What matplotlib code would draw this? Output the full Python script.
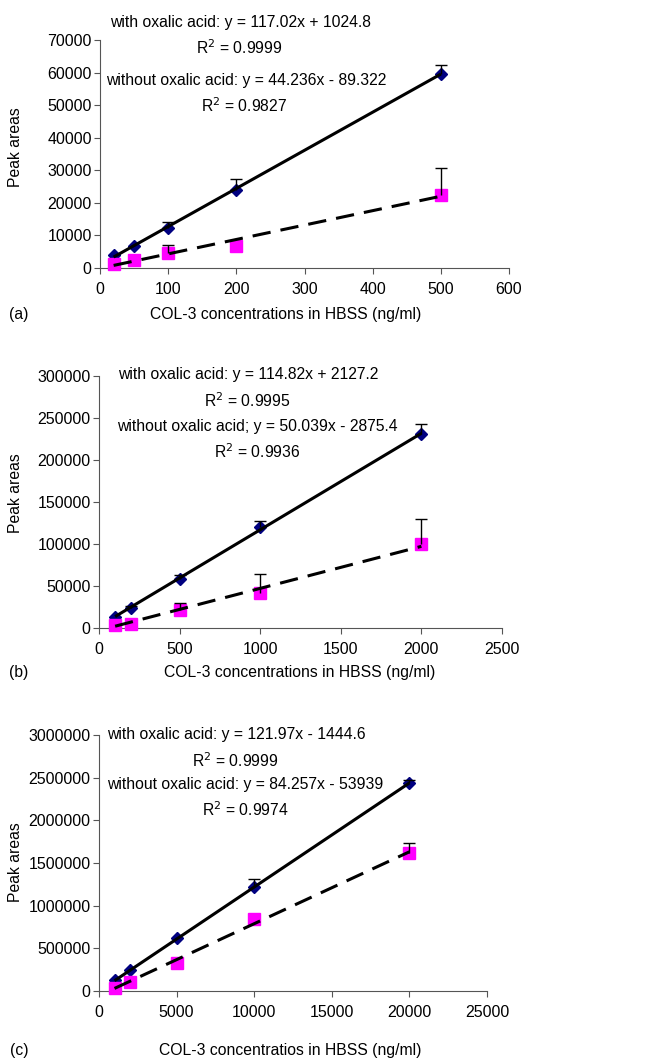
import matplotlib.pyplot as plt
import numpy as np

plt.rcParams["font.family"] = ["Liberation Sans Narrow", "Liberation Sans", "DejaVu Sans"]

# -- Panel (a) --------------------------------------------------------------
a_x = [20, 50, 100, 200, 500]
a_with = [3900, 6660, 12300, 23900, 59500]
a_with_err = [0, 0, 1850, 3300, 2700]
a_without = [1330, 2560, 4710, 6760, 22450]
a_without_err = [0, 0, 2460, 0, 8300]
a_fit_with = (117.02, 1024.8)
a_fit_without = (44.236, -89.322)
a_texts = ["with oxalic acid: y = 117.02x + 1024.8", "R$^2$ = 0.9999",
           "without oxalic acid: y = 44.236x - 89.322", "R$^2$ = 0.9827"]
a_yticks = [0, 10000, 20000, 30000, 40000, 50000, 60000, 70000]
a_xticks = [0, 100, 200, 300, 400, 500, 600]

# -- Panel (b) --------------------------------------------------------------
b_x = [100, 200, 500, 1000, 2000]
b_with = [13100, 24300, 58900, 120200, 230800]
b_with_err = [0, 2000, 4000, 7600, 12300]
b_without = [3200, 5200, 21900, 42200, 99500]
b_without_err = [0, 0, 8300, 22300, 30200]
b_fit_with = (114.82, 2127.2)
b_fit_without = (50.039, -2875.4)
b_texts = ["with oxalic acid: y = 114.82x + 2127.2", "R$^2$ = 0.9995",
           "without oxalic acid; y = 50.039x - 2875.4", "R$^2$ = 0.9936"]
b_yticks = [0, 50000, 100000, 150000, 200000, 250000, 300000]
b_xticks = [0, 500, 1000, 1500, 2000, 2500]

# -- Panel (c) --------------------------------------------------------------
c_x = [1000, 2000, 5000, 10000, 20000]
c_with = [129000, 246000, 625000, 1215000, 2434000]
c_with_err = [0, 0, 0, 101000, 39000]
c_without = [39000, 102000, 332000, 840000, 1613000]
c_without_err = [0, 0, 0, 0, 125000]
c_fit_with = (121.97, -1444.6)
c_fit_without = (84.257, -53939)
c_texts = ["with oxalic acid: y = 121.97x - 1444.6", "R$^2$ = 0.9999",
           "without oxalic acid: y = 84.257x - 53939", "R$^2$ = 0.9974"]
c_yticks = [0, 500000, 1000000, 1500000, 2000000, 2500000, 3000000]
c_xticks = [0, 5000, 10000, 15000, 20000, 25000]

FS = 11.3     # annotation / label size
TFS = 11.5    # tick label size
fig = plt.figure(figsize=(6.45, 10.61), dpi=100)


def px_to_fig(x, y):
    return x / 645, 1 - y / 1061


def panel(rect, x, yw, ew, yo, eo, fw, fo, texts, text_pos, yticks, xticks,
          label, label_pos, xlabel, xlabel_pos, ylabel_y):
    ax = fig.add_axes(rect)
    x = np.asarray(x, dtype=float)
    for ys, es, marker, color, ms in [(yw, ew, "D", "#000080", 6.5),
                                      (yo, eo, "s", "#FF00FF", 8.5)]:
        ys = np.asarray(ys, dtype=float)
        es = np.asarray(es, dtype=float)
        ax.plot(x, ys, ls="none", marker=marker, color=color, ms=ms,
                mec=color, zorder=3, clip_on=False)
        m = es > 0
        ax.vlines(x[m], ys[m], ys[m] + es[m], color="black", lw=1.0, zorder=4)
        ax.plot(x[m], ys[m] + es[m], ls="none", marker="_", color="black",
                ms=9, mew=1.0, zorder=4)
    xs = np.array([x[0], x[-1]])
    ax.plot(xs, fw[0] * xs + fw[1], color="black", lw=2.2, zorder=5,
            solid_capstyle="butt")
    ax.plot(xs, fo[0] * xs + fo[1], color="black", lw=2.2, zorder=5,
            dashes=(6, 3.3))

    ax.set_xlim(xticks[0], xticks[-1])
    ax.set_ylim(yticks[0], yticks[-1])
    ax.set_xticks(xticks)
    ax.set_yticks(yticks)
    ax.ticklabel_format(style="plain", useOffset=False)
    ax.tick_params(labelsize=TFS, length=4, width=0.8, color="#555555", pad=2)
    ax.tick_params(axis="x", pad=6)
    for s in ["top", "right"]:
        ax.spines[s].set_visible(False)
    for s in ["left", "bottom"]:
        ax.spines[s].set_linewidth(0.8)
        ax.spines[s].set_color("#555555")

    for t, (px, py) in zip(texts, text_pos):
        fx, fy = px_to_fig(px, py)
        fig.text(fx, fy, t, fontsize=FS, ha="center", va="center")
    fx, fy = px_to_fig(*label_pos)
    fig.text(fx, fy, label, fontsize=FS, ha="center", va="center")
    fx, fy = px_to_fig(*xlabel_pos)
    fig.text(fx, fy, xlabel, fontsize=FS, ha="center", va="center")
    fx, fy = px_to_fig(16, ylabel_y)
    fig.text(fx, fy, "Peak areas", fontsize=FS, ha="center", va="center",
             rotation=90)
    return ax


panel([100 / 645, 1 - 268 / 1061, 409 / 645, 228 / 1061],
      a_x, a_with, a_with_err, a_without, a_without_err,
      a_fit_with, a_fit_without, a_texts,
      [(240, 22), (239, 48), (246, 80), (244, 106)],
      a_yticks, a_xticks, "(a)", (19, 314),
      "COL-3 concentrations in HBSS (ng/ml)", (286, 314), 147)

panel([99 / 645, 1 - 628 / 1061, 403 / 645, 252 / 1061],
      b_x, b_with, b_with_err, b_without, b_without_err,
      b_fit_with, b_fit_without, b_texts,
      [(248, 375), (247, 401), (257, 427), (257, 452)],
      b_yticks, b_xticks, "(b)", (19, 672),
      "COL-3 concentrations in HBSS (ng/ml)", (300, 672), 493)

panel([99 / 645, 1 - 991 / 1061, 388 / 645, 256 / 1061],
      c_x, c_with, c_with_err, c_without, c_without_err,
      c_fit_with, c_fit_without, c_texts,
      [(236, 735), (235, 761), (245, 784), (245, 810)],
      c_yticks, c_xticks, "(c)", (19, 1050),
      "COL-3 concentratios in HBSS (ng/ml)", (290, 1050), 862)

fig.savefig("out.png", dpi=100)
